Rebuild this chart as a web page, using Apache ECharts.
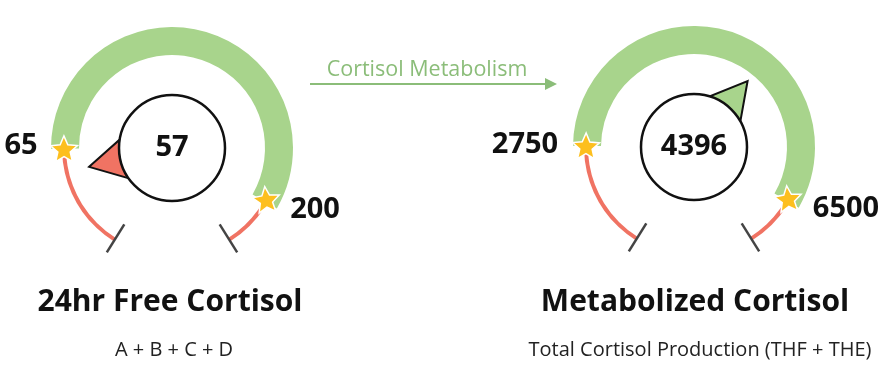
<!DOCTYPE html>
<html>
<head>
<meta charset="utf-8">
<script src="https://cdn.jsdelivr.net/npm/echarts@6/dist/echarts.min.js"></script>
<style>
  html, body { margin: 0; padding: 0; background: #fff; }
  #chart { width: 894px; height: 378px; }
</style>
</head>
<body>
<div id="chart"></div>
<script>
// two gauges, one per measurement
const names = ['24hr Free Cortisol', 'Metabolized Cortisol'];
const subtitles = ['A + B + C + D', 'Total Cortisol Production (THF + THE)'];
const readings = [57, 4396];
// where the needle sits on the drawn scale (right one is past its printed value)
const needleAt = [57, 5050];
const rangeLow = [65, 2750];
const rangeHigh = [200, 6500];
const scaleMin = [28, 1700];
const scaleMax = [218, 7000];
const arrowLabel = 'Cortisol Metabolism';

const GREEN = '#a8d48c';
const RED = '#f07363';
const STAR = '#fdbf1e';
const FONT = 'Open Sans';

const centers = [[172, 148], [694, 147]];
const limitLabelPos = [
  [[-151, -2], [143, 62]],
  [[-169, -2], [152, 62]]
];
// star with a point along +x so it stands upright on the left side of the dial
const starPath = 'path://M98 50L67.8 62.9L64.8 95.6L43.2 70.9L11.2 78.2L28 50L11.2 21.8L43.2 29.1L64.8 4.4L67.8 37.1Z';

const myChart = echarts.init(document.getElementById('chart'));

let series = [];
names.forEach((name, i) => {
  const base = {
    type: 'gauge',
    center: centers[i],
    startAngle: 238,
    endAngle: -58,
    min: scaleMin[i],
    max: scaleMax[i],
    splitNumber: 1,
    axisTick: { show: false },
    axisLabel: { show: false },
    splitLine: { show: false },
    pointer: { show: false },
    anchor: { show: false },
    title: { show: false },
    detail: { show: false },
    silent: true,
    animation: false
  };
  const span = scaleMax[i] - scaleMin[i];
  const pLow = (rangeLow[i] - scaleMin[i]) / span;
  const pHigh = (rangeHigh[i] - scaleMin[i]) / span;

  // thin red track with the end ticks
  series.push(Object.assign({}, base, {
    radius: 110,
    axisLine: { lineStyle: { width: 4, color: [[1, RED]] } },
    splitLine: { show: true, distance: -17, length: 33, lineStyle: { color: '#444', width: 2.5 } },
    data: []
  }));
  // green normal band
  series.push(Object.assign({}, base, {
    radius: 121,
    axisLine: { lineStyle: { width: 28, color: [[pLow, 'rgba(0,0,0,0)'], [pHigh, GREEN], [1, 'rgba(0,0,0,0)']] } },
    data: []
  }));
  // stars + limit labels
  series.push(Object.assign({}, base, {
    radius: 121,
    axisLine: { show: false },
    pointer: {
      show: true, icon: starPath, length: 27, width: 27, offsetCenter: [0, -94.5], keepAspect: true,
      itemStyle: { color: STAR, borderColor: '#fff', borderWidth: 1.5 }
    },
    detail: { show: true, fontFamily: FONT, fontSize: 29, fontWeight: 'bold', color: '#111', formatter: '{value}' },
    data: [
      { value: rangeLow[i], detail: { offsetCenter: limitLabelPos[i][0] } },
      { value: rangeHigh[i], detail: { offsetCenter: limitLabelPos[i][1] } }
    ]
  }));
  // needle + value bubble
  const inRange = readings[i] >= rangeLow[i] && readings[i] <= rangeHigh[i];
  series.push(Object.assign({}, base, {
    radius: 121,
    axisLine: { show: false },
    pointer: {
      show: true, icon: 'triangle', length: 38, width: 42, offsetCenter: [0, -47],
      itemStyle: { color: inRange ? GREEN : RED, borderColor: '#111', borderWidth: 2 }
    },
    anchor: {
      show: true, showAbove: true, size: 106,
      itemStyle: { color: '#fff', borderColor: '#111', borderWidth: 2.5 }
    },
    data: [{ value: needleAt[i] }]
  }));
  // printed reading, on top of the bubble
  series.push(Object.assign({}, base, {
    radius: 121,
    z: 5,
    axisLine: { show: false },
    detail: {
      show: true, offsetCenter: [0, 0], fontFamily: FONT, fontSize: 29, fontWeight: 'bold', color: '#111',
      formatter: () => String(readings[i])
    },
    data: [{ value: readings[i] }]
  }));
});

const textX = [170, 695];
let graphics = [];
names.forEach((name, i) => {
  graphics.push({
    type: 'text', x: textX[i], y: 302, z: 10,
    style: { text: name, fontFamily: FONT, fontSize: 30, fontWeight: 'bold', fill: '#111', align: 'center', verticalAlign: 'middle' }
  });
  graphics.push({
    type: 'text', x: textX[i] + (i ? 5 : 4), y: 350, z: 10,
    style: { text: subtitles[i], fontFamily: FONT, fontSize: 20, fill: '#222', align: 'center', verticalAlign: 'middle' }
  });
});
// arrow between the two gauges
graphics.push({
  type: 'text', x: 427, y: 70, z: 10,
  style: { text: arrowLabel, fontFamily: FONT, fontSize: 21.5, fill: '#8bbd79', align: 'center', verticalAlign: 'middle' }
});
graphics.push({
  type: 'line', z: 10,
  shape: { x1: 310, y1: 84, x2: 548, y2: 84 },
  style: { stroke: '#8bbd79', lineWidth: 2 }
});
graphics.push({
  type: 'polygon', z: 10,
  shape: { points: [[545, 78], [557, 84], [545, 90]] },
  style: { fill: '#8bbd79' }
});

const options = {
  backgroundColor: '#fff',
  series: series,
  graphic: graphics
};
myChart.setOption(options);
</script>
</body>
</html>
